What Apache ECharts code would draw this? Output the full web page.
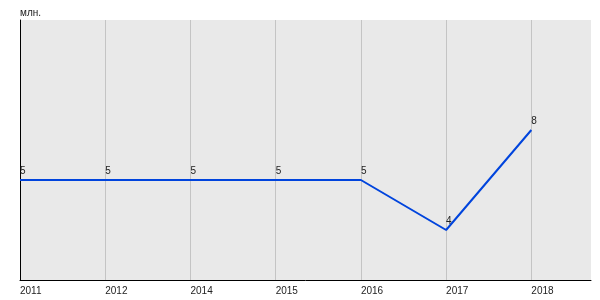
<!DOCTYPE html>
<html>
<head>
<meta charset="utf-8">
<script src="https://cdn.jsdelivr.net/npm/echarts@6/dist/echarts.min.js"></script>
<style>html,body{margin:0;padding:0;background:#fff}#c{width:600px;height:300px}</style>
</head>
<body>
<div id="c"></div>
<script>
var categories = ['2011', '2012', '2014', '2015', '2016', '2017', '2018'];
var values = ['5', '5', '5', '5', '5', '4', '8'];
var valueLevels = ['4', '5', '8'];
var unitLabel = 'млн.';

var seriesData = values.map(function (v, i) { return [i, v]; });

var chart = echarts.init(document.getElementById('c'), null, {renderer: 'canvas'});
chart.setOption({
  animation: false,
  textStyle: {fontFamily: 'Liberation Sans, Arial, sans-serif'},
  title: {
    text: unitLabel, left: 15, top: 3,
    textStyle: {fontSize: 10, fontWeight: 'normal', color: '#222'}
  },
  grid: [
    {left: 20, right: 9, top: 20, bottom: 20, show: true, backgroundColor: '#e9e9e9', borderWidth: 0},
    {left: 20, right: 9, top: 30, bottom: 20}
  ],
  xAxis: [{
    gridIndex: 0,
    type: 'value',
    min: 0, max: 6.7, interval: 1,
    axisLine: {show: true, onZero: false, lineStyle: {color: '#000', width: 1}},
    axisTick: {show: false},
    axisLabel: {
      align: 'left', fontSize: 10, color: '#222', margin: 6,
      showMaxLabel: false,
      formatter: function (v) { return categories[v] !== undefined ? categories[v] : ''; }
    },
    splitLine: {show: true, showMinLine: false, showMaxLine: false, lineStyle: {color: '#c4c4c4', width: 1}}
  }, {
    gridIndex: 1,
    type: 'value',
    min: 0, max: 6.7, interval: 1,
    show: false
  }],
  yAxis: [{
    gridIndex: 0,
    type: 'value',
    min: 0, max: 1,
    axisLine: {show: true, onZero: false, lineStyle: {color: '#000', width: 1}},
    axisTick: {show: false},
    axisLabel: {show: false},
    splitLine: {show: false}
  }, {
    gridIndex: 1,
    type: 'category',
    data: valueLevels,
    boundaryGap: false,
    min: -1, max: 4,
    show: false
  }],
  series: [{
    type: 'line',
    xAxisIndex: 1, yAxisIndex: 1,
    data: seriesData,
    symbol: 'circle', symbolSize: 0.01, showSymbol: true,
    itemStyle: {color: '#0044dd'},
    lineStyle: {color: '#0044dd', width: 2},
    label: {
      show: true, position: 'top', align: 'left', distance: 4,
      fontSize: 10, color: '#222',
      formatter: function (p) { return p.value[1]; }
    },
    labelLayout: {hideOverlap: false}
  }]
});
</script>
</body>
</html>
